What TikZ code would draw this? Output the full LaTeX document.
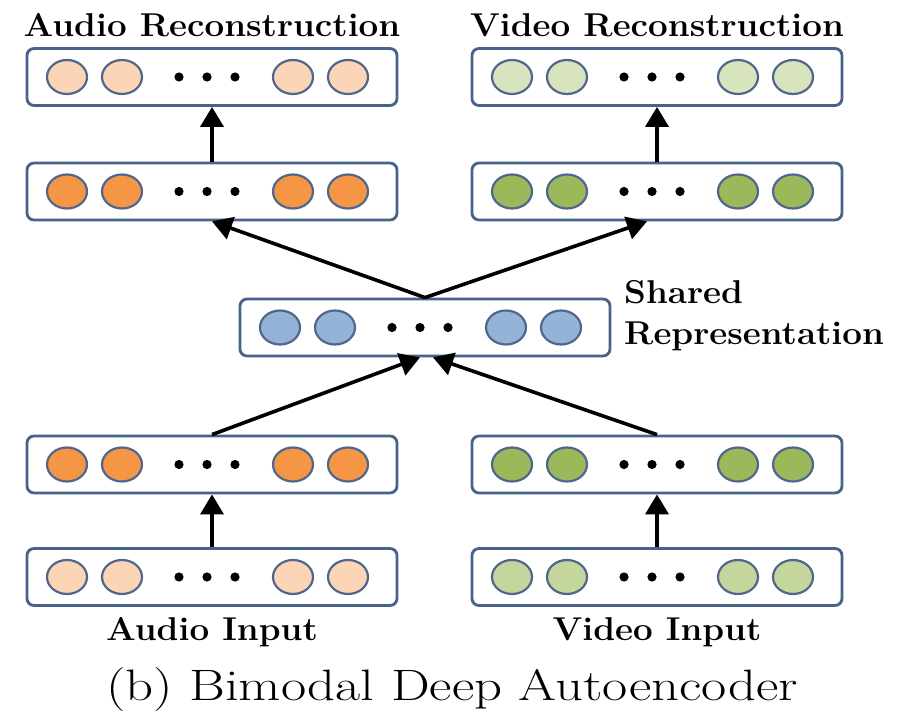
\documentclass[tikz,border=0pt]{standalone}
\usetikzlibrary{arrows.meta}

\definecolor{boxline}{RGB}{72,98,138}
\definecolor{cellline}{RGB}{80,102,140}
\definecolor{audiolight}{RGB}{251,213,181}
\definecolor{audiodark}{RGB}{245,150,70}
\definecolor{videopale}{RGB}{216,228,190}
\definecolor{videolight}{RGB}{196,214,155}
\definecolor{videodark}{RGB}{155,185,90}
\definecolor{sharedblue}{RGB}{149,179,215}

\tikzset{
  layerbox/.style={draw=boxline, line width=2.8pt, rounded corners=7pt,
    minimum width=370pt, minimum height=57pt, inner sep=0pt, fill=white},
  unitcell/.style={draw=cellline, line width=2.2pt},
  conn/.style={draw=black, line width=3.6pt,
    -{Triangle[length=20pt,width=23pt]}},
  labeltext/.style={font=\fontsize{33}{41}\selectfont\bfseries, inner sep=0pt},
  captiontext/.style={font=\fontsize{44}{50}\selectfont, inner sep=0pt}
}

% bold label, slightly widened
\newcommand\widelabel[1]{\scalebox{1.06}[1]{#1}}

% one layer: box, four units and an ellipsis of three dots
\newcommand\layerrow[4]{%
  \node[layerbox] (#1) at (#2,#3) {};
  \foreach \dx in {-140,-85,86,141}
    \draw[unitcell, fill=#4] ({#2-5+(\dx)},#3) ellipse [x radius=20, y radius=17];
  \foreach \dx in {-28,0,28}
    \fill[black] ({#2-5+(\dx)},#3) circle [radius=4.6];
}

\begin{document}
\begin{tikzpicture}[x=1pt,y=-1pt]
  \useasboundingbox (0,0) rectangle (900,714);

  % audio branch
  \layerrow{ain}{212}{577}{audiolight}
  \layerrow{ahid}{212}{464.5}{audiodark}
  \layerrow{aup}{212}{191.5}{audiodark}
  \layerrow{arec}{212}{77}{audiolight}

  % video branch
  \layerrow{vin}{657}{577}{videolight}
  \layerrow{vhid}{657}{464.5}{videodark}
  \layerrow{vup}{657}{191.5}{videodark}
  \layerrow{vrec}{657}{77}{videopale}

  % shared layer
  \layerrow{shared}{425}{327.5}{sharedblue}

  % connections
  \draw[conn] (ain.north) -- (ahid.south);
  \draw[conn] (vin.north) -- (vhid.south);
  \draw[conn] (ahid.north) -- ([xshift=-5pt]shared.south);
  \draw[conn] (vhid.north) -- ([xshift=8pt]shared.south);
  \draw[conn] (shared.north) -- (aup.south);
  \draw[conn] (shared.north) -- ([xshift=-10pt]vup.south);
  \draw[conn] (aup.north) -- (arec.south);
  \draw[conn] (vup.north) -- (vrec.south);

  % labels
  \node[labeltext] (arecl) at (212,25) {\widelabel{Audio Reconstruction}};
  \node[labeltext] (vrecl) at (657,25) {\widelabel{Video Reconstruction}};
  \node[labeltext, anchor=west, align=left] (sharedl) at (624,316)
    {\widelabel{Shared}\\\widelabel{Representation}};
  \node[labeltext] (ainl) at (212,632) {\widelabel{Audio Input}};
  \node[labeltext] (vinl) at (657,632) {\widelabel{Video Input}};
  \node[captiontext] (cap) at (452,690) {\scalebox{1.245}[1]{(b) Bimodal Deep Autoencoder}};
\end{tikzpicture}
\end{document}
